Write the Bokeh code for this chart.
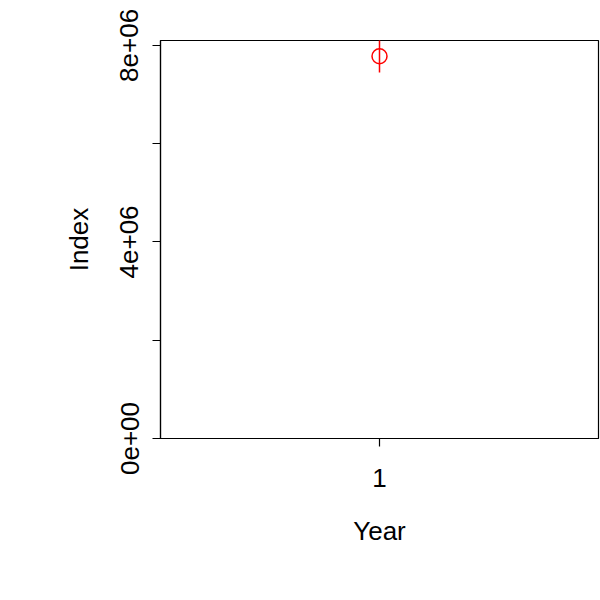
from bokeh.plotting import figure
from bokeh.models import Range1d, FixedTicker
from bokeh.embed import file_html
from bokeh.resources import INLINE

year = [1]
index = [7.78e6]
lower = [7.45e6]
upper = [8.3e6]
y_ticks = [0, 2e6, 4e6, 6e6, 8e6]
y_labels = {0: "0e+00", 2e6: "", 4e6: "4e+06", 6e6: "", 8e6: "8e+06"}

p = figure(width=600, height=600, output_backend="svg", toolbar_location=None,
           x_range=Range1d(0.5, 1.5), y_range=Range1d(0, 8.1e6),
           min_border_left=160, min_border_right=2, min_border_top=40, min_border_bottom=162)
p.grid.visible = False
p.outline_line_color = "black"
p.outline_line_width = 1.2

p.segment(x0=year, y0=lower, x1=year, y1=upper, line_color="red", line_width=1.5)
p.scatter(x=year, y=index, marker="circle", size=15, fill_color=None, line_color="red", line_width=1.5)

for ax in (p.xaxis[0], p.yaxis[0]):
    ax.major_label_text_font = "Liberation Sans"
    ax.major_label_text_font_size = "26px"
    ax.major_label_text_color = "black"
    ax.axis_label_text_font = "Liberation Sans"
    ax.axis_label_text_font_size = "26px"
    ax.axis_label_text_font_style = "normal"
    ax.axis_label_text_color = "black"
    ax.major_tick_out = 8
    ax.major_tick_in = 0
    ax.minor_tick_line_color = None
    ax.major_tick_line_width = 1.2
    ax.axis_line_width = 1.2

p.xaxis.ticker = FixedTicker(ticks=year)
p.xaxis.axis_label = "Year"
p.xaxis.major_label_standoff = 22
p.xaxis.axis_label_standoff = 26

p.yaxis.ticker = FixedTicker(ticks=y_ticks)
p.yaxis.major_label_overrides = y_labels
p.yaxis.major_label_orientation = "vertical"
p.yaxis.axis_label = "Index"
p.yaxis.major_label_standoff = 14
p.yaxis.axis_label_standoff = 24

open("out.html", "w").write(file_html(p, INLINE))
